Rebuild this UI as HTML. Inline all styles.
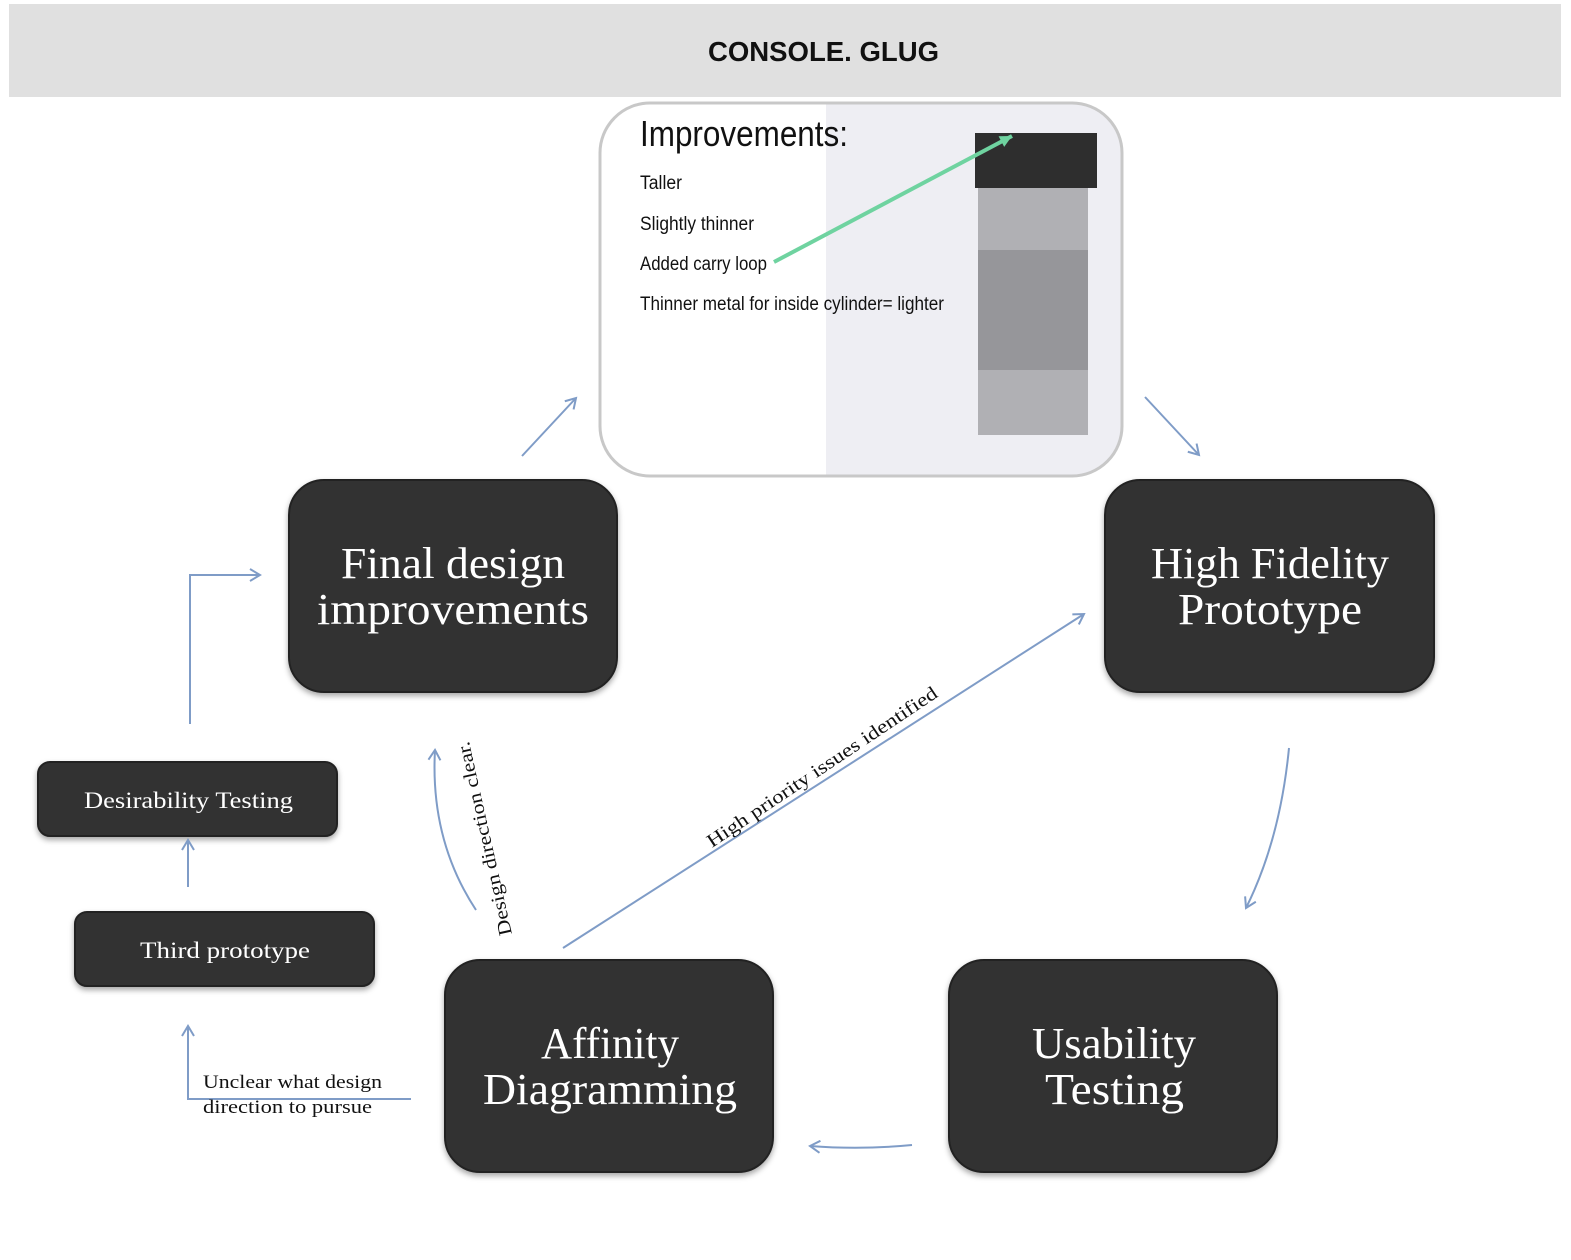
<!DOCTYPE html>
<html><head><meta charset="utf-8"><style>
body{margin:0;background:#fff}
svg{display:block}
.big{font-family:"Liberation Serif",serif;font-size:44px;fill:#fff}
.sm{font-family:"Liberation Serif",serif;font-size:23px;fill:#fff}
.lb{font-family:"Liberation Serif",serif;font-size:19px;fill:#111}
.im{font-family:"Liberation Sans",sans-serif;fill:#111}
</style></head><body>
<svg width="1571" height="1260" viewBox="0 0 1571 1260" xmlns="http://www.w3.org/2000/svg">
<defs>
<marker id="a" markerWidth="14" markerHeight="14" refX="11" refY="7" orient="auto" markerUnits="userSpaceOnUse">
<path d="M1,1 L11,7 L1,13" fill="none" stroke="#7f9cc7" stroke-width="2"/></marker>
<marker id="g" markerWidth="16" markerHeight="16" refX="13" refY="8" orient="auto" markerUnits="userSpaceOnUse">
<path d="M1,2 L13,8 L1,14 Z" fill="#6fd3a0"/></marker>
<clipPath id="c"><rect x="600" y="103" width="522" height="373" rx="50"/></clipPath>
<filter id="s" x="-10%" y="-10%" width="120%" height="125%"><feDropShadow dx="0" dy="3" stdDeviation="3" flood-color="#000" flood-opacity="0.35"/></filter>
</defs>
<rect x="9" y="4" width="1552" height="93" fill="#e0e0e0"/>
<text x="708" y="61" font-family="Liberation Sans,sans-serif" font-weight="bold" font-size="28" fill="#111" textLength="231" lengthAdjust="spacingAndGlyphs">CONSOLE. GLUG</text>

<g clip-path="url(#c)">
<rect x="600" y="103" width="522" height="373" fill="#fff"/>
<rect x="826" y="103" width="296" height="373" fill="#eeeef3"/>
<rect x="978" y="170" width="110" height="265" fill="#b0b0b4"/>
<rect x="978" y="250" width="110" height="120" fill="#96969a"/>
<rect x="975" y="133" width="122" height="55" fill="#2e2e2e"/>
</g>
<rect x="600" y="103" width="522" height="373" rx="50" fill="none" stroke="#c8c8c8" stroke-width="3"/>
<text x="640" y="146" class="im" font-size="36" textLength="208" lengthAdjust="spacingAndGlyphs">Improvements:</text>
<text x="640" y="189" class="im" font-size="19" textLength="42" lengthAdjust="spacingAndGlyphs">Taller</text>
<text x="640" y="230" class="im" font-size="19" textLength="114" lengthAdjust="spacingAndGlyphs">Slightly thinner</text>
<text x="640" y="270" class="im" font-size="19" textLength="127" lengthAdjust="spacingAndGlyphs">Added carry loop</text>
<text x="640" y="310" class="im" font-size="19" textLength="304" lengthAdjust="spacingAndGlyphs">Thinner metal for inside cylinder= lighter</text>
<line x1="774" y1="262" x2="1012" y2="136" stroke="#6fd3a0" stroke-width="4" marker-end="url(#g)"/>

<g fill="#333" stroke="#222" stroke-width="2" filter="url(#s)">
<rect x="289" y="480" width="328" height="212" rx="35"/>
<rect x="1105" y="480" width="329" height="212" rx="35"/>
<rect x="445" y="960" width="328" height="212" rx="35"/>
<rect x="949" y="960" width="328" height="212" rx="35"/>
<rect x="38" y="762" width="299" height="74" rx="12"/>
<rect x="75" y="912" width="299" height="74" rx="12"/>
</g>
<text class="big" x="341" y="578" textLength="224" lengthAdjust="spacingAndGlyphs">Final design</text>
<text class="big" x="317" y="624" textLength="272" lengthAdjust="spacingAndGlyphs">improvements</text>
<text class="big" x="1151" y="578" textLength="238" lengthAdjust="spacingAndGlyphs">High Fidelity</text>
<text class="big" x="1178" y="624" textLength="184" lengthAdjust="spacingAndGlyphs">Prototype</text>
<text class="big" x="541" y="1058" textLength="138" lengthAdjust="spacingAndGlyphs">Affinity</text>
<text class="big" x="483" y="1104" textLength="254" lengthAdjust="spacingAndGlyphs">Diagramming</text>
<text class="big" x="1032" y="1058" textLength="164" lengthAdjust="spacingAndGlyphs">Usability</text>
<text class="big" x="1045" y="1104" textLength="139" lengthAdjust="spacingAndGlyphs">Testing</text>
<text class="sm" x="84" y="808" textLength="209" lengthAdjust="spacingAndGlyphs">Desirability Testing</text>
<text class="sm" x="140" y="958" textLength="170" lengthAdjust="spacingAndGlyphs">Third prototype</text>

<g stroke="#7f9cc7" stroke-width="2" fill="none">
<line x1="522" y1="456" x2="576" y2="398" marker-end="url(#a)"/>
<line x1="1145" y1="397" x2="1199" y2="455" marker-end="url(#a)"/>
<path d="M1289,748 Q1280,840 1246,908" marker-end="url(#a)"/>
<path d="M912,1145 Q860,1150 810,1146" marker-end="url(#a)"/>
<line x1="563" y1="948" x2="1084" y2="614" marker-end="url(#a)"/>
<path d="M476,910 Q430,840 435,750" marker-end="url(#a)"/>
<path d="M411,1099 L188,1099 L188,1026" marker-end="url(#a)"/>
<line x1="188" y1="887" x2="188" y2="840" marker-end="url(#a)"/>
<path d="M190,724 L190,575 L260,575" marker-end="url(#a)"/>
</g>
<text class="lb" transform="translate(712,848) rotate(-33.8)" textLength="273" lengthAdjust="spacingAndGlyphs">High priority issues identified</text>
<text class="lb" transform="translate(512,934) rotate(-102.6)" textLength="198" lengthAdjust="spacingAndGlyphs">Design direction clear.</text>
<text class="lb" x="203" y="1088" textLength="179" lengthAdjust="spacingAndGlyphs">Unclear what design</text>
<text class="lb" x="203" y="1113" textLength="169" lengthAdjust="spacingAndGlyphs">direction to pursue</text>
</svg>
</body></html>
